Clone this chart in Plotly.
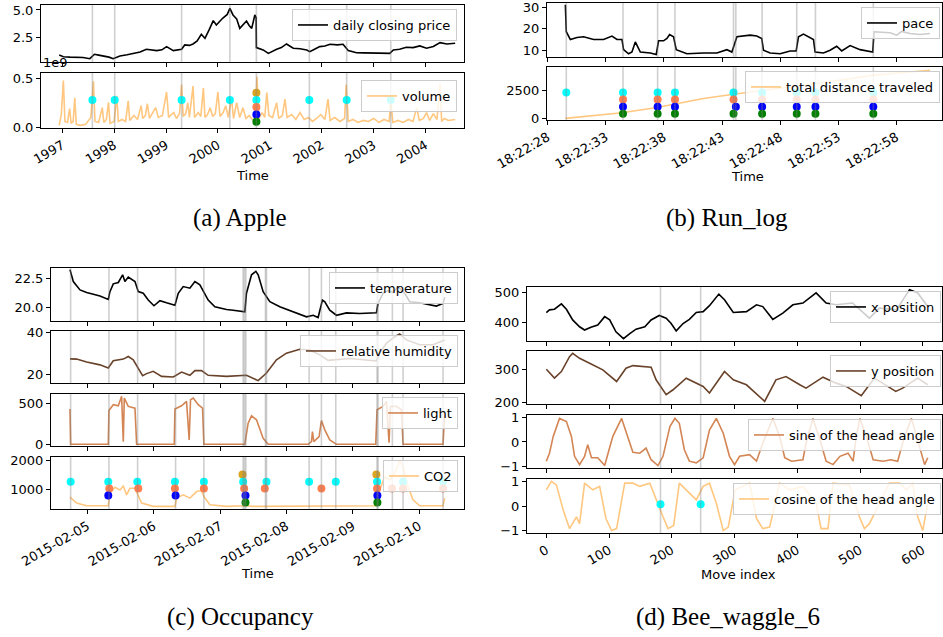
import pandas as pd
import plotly.graph_objects as go

W, H = 943, 637

# ---------------- (a) Apple ----------------
apple_year = [1996.94, 1997.02, 1997.15, 1997.28, 1997.40, 1997.53, 1997.62, 1997.70, 1997.79, 1997.90,
              1997.98, 1998.11, 1998.25, 1998.37, 1998.50, 1998.62, 1998.72, 1998.82, 1998.92, 1999.01,
              1999.14, 1999.30, 1999.36, 1999.45, 1999.52, 1999.60, 1999.68, 1999.75, 1999.83, 1999.91,
              1999.97, 2000.09, 2000.18, 2000.23, 2000.29, 2000.36, 2000.42, 2000.50, 2000.55, 2000.60,
              2000.65, 2000.71, 2000.735, 2000.74, 2000.80, 2000.87, 2000.97, 2001.05, 2001.13, 2001.22,
              2001.32, 2001.45, 2001.58, 2001.71, 2001.77, 2001.86, 2001.96, 2002.06, 2002.16, 2002.30,
              2002.41, 2002.51, 2002.58, 2002.67, 2002.80, 2002.93, 2003.10, 2003.31, 2003.38, 2003.50,
              2003.63, 2003.76, 2003.89, 2004.02, 2004.15, 2004.28, 2004.41, 2004.57]
apple_price = [0.93, 0.78, 0.74, 0.72, 0.70, 0.60, 1.00, 0.92, 0.84, 0.74,
               0.60, 0.84, 0.95, 1.08, 1.20, 1.45, 1.38, 1.33, 1.40, 1.69,
               1.33, 1.45, 1.84, 1.80, 1.93, 2.20, 2.80, 2.44, 3.20, 4.04,
               3.64, 4.25, 4.60, 5.15, 4.55, 4.20, 3.34, 3.80, 4.00, 3.60,
               3.34, 4.55, 4.30, 1.60, 1.50, 1.39, 1.08, 1.30, 1.45, 1.60,
               1.93, 1.54, 1.50, 1.39, 1.23, 1.45, 1.69, 1.75, 1.90, 1.85,
               1.90, 1.33, 1.25, 1.14, 1.12, 1.14, 1.10, 1.08, 1.39, 1.45,
               1.63, 1.60, 1.75, 1.54, 1.70, 2.05, 1.93, 2.00]

vol_year = [1996.94, 1996.98, 1997.02, 1997.05, 1997.10, 1997.14, 1997.17, 1997.21, 1997.24, 1997.27,
            1997.35, 1997.45, 1997.55, 1997.60, 1997.63, 1997.70, 1997.77, 1997.80, 1997.85, 1997.89,
            1997.92, 1998.00, 1998.05, 1998.08, 1998.15, 1998.22, 1998.27, 1998.30, 1998.38, 1998.45,
            1998.52, 1998.55, 1998.60, 1998.64, 1998.68, 1998.74, 1998.80, 1998.85, 1998.93, 1999.01,
            1999.05, 1999.10, 1999.15, 1999.20, 1999.26, 1999.30, 1999.33, 1999.38, 1999.42, 1999.45,
            1999.52, 1999.55, 1999.62, 1999.67, 1999.72, 1999.75, 1999.80, 1999.85, 1999.90, 1999.95,
            2000.00, 2000.04, 2000.10, 2000.15, 2000.20, 2000.26, 2000.30, 2000.36, 2000.42, 2000.48,
            2000.54, 2000.60, 2000.66, 2000.72, 2000.75, 2000.79, 2000.85, 2000.90, 2000.94, 2000.98,
            2001.05, 2001.13, 2001.17, 2001.24, 2001.29, 2001.33, 2001.42, 2001.50, 2001.58, 2001.66,
            2001.74, 2001.82, 2001.90, 2001.98, 2002.06, 2002.12, 2002.16, 2002.25, 2002.35, 2002.44,
            2002.47, 2002.51, 2002.60, 2002.70, 2002.80, 2002.90, 2003.00, 2003.10, 2003.20, 2003.30,
            2003.33, 2003.37, 2003.47, 2003.57, 2003.67, 2003.76, 2003.83, 2003.88, 2003.96, 2004.02,
            2004.08, 2004.15, 2004.22, 2004.28, 2004.31, 2004.36, 2004.44, 2004.57]
vol_value = [0.02, 0.13, 0.477, 0.06, 0.05, 0.19, 0.04, 0.06, 0.30, 0.03,
             0.02, 0.03, 0.10, 0.468, 0.06, 0.05, 0.20, 0.05, 0.08, 0.255,
             0.04, 0.06, 0.32, 0.06, 0.08, 0.06, 0.27, 0.07, 0.12, 0.08,
             0.22, 0.09, 0.12, 0.24, 0.09, 0.14, 0.20, 0.10, 0.12, 0.36,
             0.10, 0.13, 0.15, 0.09, 0.14, 0.435, 0.11, 0.14, 0.25, 0.10,
             0.42, 0.10, 0.15, 0.11, 0.40, 0.10, 0.13, 0.20, 0.11, 0.14,
             0.36, 0.11, 0.15, 0.22, 0.10, 0.30, 0.09, 0.25, 0.10, 0.20,
             0.09, 0.12, 0.08, 0.06, 0.517, 0.09, 0.15, 0.10, 0.353, 0.12,
             0.10, 0.25, 0.09, 0.12, 0.288, 0.10, 0.13, 0.08, 0.15, 0.08,
             0.10, 0.06, 0.09, 0.13, 0.08, 0.288, 0.07, 0.10, 0.06, 0.09,
             0.435, 0.06, 0.08, 0.05, 0.07, 0.06, 0.09, 0.05, 0.08, 0.06,
             0.288, 0.05, 0.07, 0.05, 0.08, 0.06, 0.20, 0.07, 0.09, 0.15,
             0.07, 0.14, 0.08, 0.435, 0.06, 0.09, 0.07, 0.08]

apple_events = [1997.58, 1998.01, 1999.30, 2000.23, 2000.74, 2001.76, 2002.48, 2003.33]
apple_dots = {
    "goldenrod": ([2000.74], 0.353),
    "cyan": ([1997.58, 1998.01, 1999.30, 2000.23, 2000.74, 2001.76, 2002.48, 2003.33], 0.278),
    "coral": ([2000.74], 0.206),
    "blue": ([2000.74], 0.131),
    "green": ([2000.74], 0.056),
}

# ---------------- (b) Run_log (seconds after 18:22:00) ----------------
pace_sec = [29.52, 29.60, 29.95, 30.52, 31.09, 31.95, 32.81, 33.53, 33.96, 34.39,
            34.53, 34.96, 35.25, 35.54, 35.97, 36.83, 37.34, 37.54, 37.97, 38.26,
            38.49, 38.83, 39.06, 39.40, 39.98, 41.41, 42.56, 43.42, 43.85, 44.28,
            44.85, 45.42, 45.99, 46.42, 46.57, 47.14, 48.00, 48.86, 49.38, 49.58,
            50.01, 50.58, 50.87, 51.01, 51.73, 52.30, 52.87, 53.30, 54.02, 54.88,
            55.74, 55.97, 56.08, 56.88, 57.46, 58.03, 58.46, 59.17, 60.03, 60.89]
pace_value = [31.1, 18.6, 15.0, 15.9, 16.25, 15.0, 15.0, 16.6, 15.0, 15.0,
              10.3, 8.4, 9.2, 13.9, 9.2, 8.75, 8.1, 14.4, 14.4, 15.5,
              17.3, 16.25, 10.3, 9.7, 8.4, 8.75, 8.75, 10.3, 9.2, 16.25,
              16.6, 17.0, 16.6, 15.5, 10.0, 8.75, 8.4, 9.7, 9.7, 16.25,
              17.5, 15.9, 15.0, 9.2, 8.75, 10.0, 11.9, 9.7, 12.2, 10.3,
              9.2, 9.2, 18.6, 18.4, 18.1, 17.0, 18.75, 17.8, 17.3, 17.8]
dist_sec = [29.52, 34.39, 37.40, 39.12, 41.41, 43.99, 46.28, 49.43, 51.15, 56.02, 60.89]
dist_value = [0, 512, 994, 1355, 1807, 2199, 2500, 2922, 3163, 3916, 4367]
run_events = [29.60, 34.48, 37.46, 38.95, 43.99, 44.19, 46.45, 49.43, 51.04, 56.02]
run_dots = {
    "cyan": ([29.60, 34.48, 37.46, 38.95, 43.99, 46.45, 49.43, 51.04, 56.02], 2349),
    "coral": ([34.48, 37.46, 38.95, 43.99, 46.45, 49.43, 51.04, 56.02], 1717),
    "blue": ([34.48, 37.46, 38.95, 44.19, 46.45, 49.43, 51.04, 56.02], 1054),
    "green": ([34.48, 37.46, 38.95, 43.99, 46.45, 49.43, 51.04, 56.02], 422),
}

# ---------------- (c) Occupancy (days after 2015-02-05) ----------------
temp_day = [-0.261, -0.211, -0.110, -0.010, 0.191, 0.316, 0.341, 0.391, 0.467, 0.532,
            0.567, 0.617, 0.718, 0.768, 0.843, 0.918, 1.004, 1.094, 1.194, 1.320,
            1.370, 1.445, 1.545, 1.621, 1.696, 1.756, 1.821, 1.922, 2.097, 2.198,
            2.373, 2.398, 2.474, 2.539, 2.574, 2.649, 2.750, 2.900, 3.101, 3.302,
            3.402, 3.477, 3.542, 3.578, 3.653, 3.753, 3.904, 4.104, 4.355, 4.380,
            4.456, 4.531, 4.606, 4.681, 4.782, 4.857, 5.008, 5.258, 5.359, 5.384]
temp_value = [23.3, 22.26, 21.53, 21.3, 21.0, 20.7, 21.38, 22.06, 22.18, 22.85,
              22.26, 22.65, 22.26, 21.38, 21.24, 20.65, 20.15, 20.59, 20.41, 20.2,
              21.24, 21.82, 21.68, 22.26, 21.97, 21.38, 20.65, 20.06, 19.82, 19.76,
              19.62, 21.24, 22.85, 23.15, 22.85, 21.38, 20.5, 20.06, 19.62, 19.18,
              19.32, 19.12, 20.65, 20.5, 19.76, 19.32, 19.53, 19.47, 19.53, 20.35,
              21.24, 21.47, 21.3, 21.82, 21.24, 20.5, 20.41, 20.12, 20.35, 20.88]

hum_day = [-0.261, -0.161, -0.010, 0.191, 0.316, 0.391, 0.542, 0.617, 0.692, 0.768,
           0.833, 0.893, 0.993, 1.119, 1.295, 1.420, 1.545, 1.621, 1.721, 1.821,
           2.097, 2.398, 2.499, 2.574, 2.699, 2.850, 3.000, 3.201, 3.352, 3.502,
           3.628, 3.753, 3.954, 4.155, 4.355, 4.405, 4.506, 4.631, 4.706, 4.807,
           5.008, 5.208, 5.384]
hum_value = [27.4, 27.3, 25.9, 24.6, 23.1, 26.5, 27.3, 28.5, 27.0, 23.1,
             19.5, 20.5, 21.6, 19.2, 18.9, 21.2, 19.7, 21.9, 21.9, 19.7,
             19.2, 19.7, 18.1, 17.2, 20.8, 27.0, 30.1, 31.9, 31.6, 29.3,
             26.7, 27.0, 27.6, 27.0, 26.4, 30.1, 34.7, 37.8, 39.1, 36.3,
             34.0, 34.0, 36.3]

light_day = [-0.261, -0.251, 0.316, 0.326, 0.391, 0.467, 0.517, 0.542, 0.557, 0.617,
             0.718, 0.743, 1.310, 1.320, 1.420, 1.495, 1.535, 1.555, 1.596, 1.671,
             1.736, 1.756, 2.373, 2.423, 2.474, 2.549, 2.649, 2.725, 3.327, 3.377,
             3.392, 3.412, 3.492, 3.527, 3.578, 3.653, 3.753, 4.345, 4.365, 4.456,
             4.506, 4.546, 4.566, 4.656, 4.732, 4.757, 5.359, 5.384]
light_value = [434, 0, 0, 417, 488, 475, 591, 33, 570, 467,
               446, 0, 0, 434, 475, 529, 54, 550, 570, 488,
               446, 0, 0, 260, 351, 302, 74, 0, 0, 33,
               157, 33, 95, 293, 178, 54, 0, 0, 426, 467,
               529, 21, 467, 467, 426, 0, 0, 384]

co2_day = [-0.261, -0.161, -0.010, 0.316, 0.341, 0.416, 0.492, 0.542, 0.592, 0.642,
           0.718, 0.753, 0.818, 0.993, 1.320, 1.345, 1.445, 1.545, 1.646, 1.721,
           1.756, 1.846, 2.097, 2.373, 2.499, 4.355, 4.405, 4.481, 4.556, 4.631,
           4.706, 4.757, 4.832, 4.907, 5.008, 5.359, 5.384]
co2_value = [739, 534, 443, 443, 875, 1080, 989, 1125, 818, 1045,
             1045, 875, 534, 420, 420, 705, 818, 705, 932, 966,
             761, 477, 420, 443, 420, 443, 989, 1443, 1330, 1557,
             2011, 1784, 1102, 648, 443, 443, 705]

occ_events = [-0.251, 0.326, 0.758, 1.330, 1.756, 2.348, 2.368, 2.388, 2.684, 2.699,
              3.342, 3.527, 3.743, 4.365, 4.380, 4.596, 4.757, 5.359]
occ_dots = {
    "goldenrod": ([2.338, 4.355], 1523),
    "cyan": ([-0.251, 0.316, 0.753, 1.320, 1.756, 2.348, 2.699, 3.342, 3.743, 4.365, 4.757, 5.359], 1273),
    "coral": ([0.331, 0.768, 1.320, 1.756, 2.363, 2.674, 3.527, 4.365, 4.591, 4.757, 5.359], 1034),
    "blue": ([0.316, 1.330, 2.383, 4.370], 795),
    "green": ([2.383, 4.370], 557),
}

# ---------------- (d) Bee_waggle_6 ----------------
xpos_idx = [0, 5, 13, 24, 32, 42, 53, 61, 71, 82, 93, 101, 111, 123, 133, 143, 157, 167, 180,
            191, 199, 207, 218, 228, 239, 250, 260, 275, 284, 298, 319, 335, 345, 361, 377,
            393, 409, 430, 446, 462, 488, 515, 531, 558, 579, 592, 608]
xpos_value = [432, 441, 443, 461, 443, 407, 384, 373, 382, 390, 418, 407, 367, 344, 361, 376,
              384, 407, 422, 413, 395, 370, 395, 409, 432, 435, 455, 494, 475, 432, 435, 458,
              452, 409, 430, 458, 464, 498, 464, 458, 464, 413, 447, 441, 509, 498, 452]
ypos_idx = [0, 13, 24, 37, 42, 53, 69, 90, 112, 127, 138, 167, 175, 191, 202, 223, 250, 260,
            284, 298, 319, 348, 366, 382, 404, 414, 441, 462, 478, 502, 515, 523, 536, 557,
            568, 579, 592, 608]
ypos_value = [300, 273, 293, 338, 348, 333, 318, 298, 263, 303, 311, 306, 268, 223, 238, 273,
              248, 228, 293, 268, 253, 203, 268, 278, 253, 243, 276, 258, 248, 220, 253, 273,
              258, 233, 243, 258, 273, 253]
sine_idx = [0, 5, 11, 21, 32, 40, 45, 53, 61, 66, 72, 82, 93, 106, 120, 130, 138, 149, 159,
            167, 178, 186, 197, 205, 212, 220, 228, 239, 250, 260, 271, 282, 292, 300, 308,
            324, 335, 345, 361, 372, 380, 391, 409, 414, 425, 436, 446, 457, 468, 481, 489,
            494, 500, 510, 521, 537, 549, 560, 571, 582, 592, 603, 608]
sine_value = [-0.79, -0.46, 0.23, 0.97, 0.84, 0.23, -0.59, -0.93, -0.59, -0.11, -0.65, -0.65,
              -0.97, 0.23, 0.97, 0.23, -0.42, -0.46, -0.25, -0.73, -0.97, -0.59, 0.63, 0.97,
              0.77, -0.32, -0.79, -0.86, -0.65, 0.49, 0.97, 0.36, -0.59, -0.93, -0.59, -0.52,
              -0.79, -0.05, 0.97, 0.23, -0.65, -0.79, -0.73, -0.05, 0.97, 0.10, -0.79, -0.93,
              -0.59, -0.46, -0.79, 0.23, 0.97, 0.23, -0.73, -0.79, -0.73, -0.79, 0.23, 0.97,
              0.10, -0.93, -0.65]
cos_idx = [0, 8, 16, 27, 37, 48, 53, 61, 74, 85, 95, 104, 112, 125, 138, 149, 165, 175, 186,
           194, 203, 212, 223, 239, 250, 260, 271, 282, 290, 301, 313, 324, 335, 345, 356,
           372, 388, 409, 430, 438, 449, 457, 483, 499, 507, 515, 547, 563, 574, 584, 592,
           600, 608]
cos_value = [0.66, 1.0, 0.86, -0.17, -0.92, -0.44, -0.72, 0.93, 0.66, 0.80, -0.51, -1.0,
             -0.92, 0.93, 0.93, 0.80, 0.93, 0.25, -0.44, -0.92, -0.79, 0.93, 0.66, 0.25,
             0.80, 0.93, 0.11, -1.0, -0.86, 0.66, 0.80, 0.93, -0.51, -0.92, -0.86, 0.93,
             0.66, 0.80, 0.11, -0.92, -0.92, 0.93, 0.86, -0.44, -0.92, -0.72, 0.93, 0.93,
             0.66, 0.93, -0.44, -1.0, 0.11]
bee_events = [182, 246]
bee_dots = {"cyan": ([182, 246], 0.07)}

# ---------------- helpers ----------------
def dyear(v):
    y = int(v)
    a = pd.Timestamp(y, 1, 1)
    b = pd.Timestamp(y + 1, 1, 1)
    return a + (b - a) * (v - y)

run_base = pd.Timestamp("2017-05-10 18:22:00")
def rsec(s):
    return run_base + pd.to_timedelta(s, unit="s")

occ_base = pd.Timestamp("2015-02-05")
def oday(d):
    return occ_base + pd.to_timedelta(d, unit="D")

def cvt(f, seq):
    return [f(v) for v in seq]

COPPER = ["rgb(0,0,0)", "rgb(105,66,42)", "rgb(211,133,84)", "rgb(255,199,127)"]
DOTC = {"goldenrod": "#DAA520", "cyan": "#00FFFF", "coral": "#FF7F50", "blue": "#0000FF", "green": "#008000"}
FONT = "DejaVu Sans"

def X(p): return p / W
def Y(p): return 1 - p / H

fig = go.Figure()
layout = {}
shapes = []
annotations = []

axis_common = dict(showline=True, linecolor="black", linewidth=1, mirror=True, ticks="outside",
                   ticklen=4, tickcolor="black", tickwidth=1, showgrid=False, zeroline=False,
                   automargin=False, ticklabeloverflow="allow",
                   tickfont=dict(family=FONT, size=13, color="black"))

def add_axes(i, xdom, ydom, xopts, yopts, match=None, labels=True):
    xa = dict(axis_common, domain=[X(xdom[0]), X(xdom[1])], anchor=f"y{i}" if i > 1 else "y", **xopts)
    if match:
        xa["matches"] = match
    if not labels:
        xa["showticklabels"] = False
    ya = dict(axis_common, domain=[Y(ydom[1]), Y(ydom[0])], anchor=f"x{i}" if i > 1 else "x", **yopts)
    layout["xaxis" if i == 1 else f"xaxis{i}"] = xa
    layout["yaxis" if i == 1 else f"yaxis{i}"] = ya

def refs(i):
    return ("x" if i == 1 else f"x{i}"), ("y" if i == 1 else f"y{i}")

def add_line(i, xs, ys, color, name, leg, width=1.6):
    xr, yr = refs(i)
    fig.add_trace(go.Scatter(x=xs, y=ys, mode="lines", line=dict(color=color, width=width),
                             name=name, xaxis=xr, yaxis=yr, legend=leg, showlegend=True))

def add_dots(i, dots, f):
    xr, yr = refs(i)
    for cname in ["goldenrod", "cyan", "coral", "blue", "green"]:
        if cname in dots:
            xs, lvl = dots[cname]
            fig.add_trace(go.Scatter(x=cvt(f, xs), y=[lvl] * len(xs), mode="markers",
                                     marker=dict(color=DOTC[cname], size=8), showlegend=False,
                                     xaxis=xr, yaxis=yr, hoverinfo="skip"))

def add_vlines(i, events, f):
    xr, yr = refs(i)
    for e in events:
        xv = f(e)
        shapes.append(dict(type="line", xref=xr, yref=f"{yr} domain", x0=xv, x1=xv, y0=0, y1=1,
                           line=dict(color="rgba(128,128,128,0.38)", width=1.6), layer="above"))

def add_legend(key, right, top):
    layout[key] = dict(x=X(right), y=Y(top - 3), xanchor="right", yanchor="top",
                       bgcolor="rgba(255,255,255,0.8)", bordercolor="rgba(204,204,204,1)",
                       borderwidth=1, font=dict(family=FONT, size=13, color="black"),
                       itemwidth=30, tracegroupgap=0)

ident = lambda v: v

# ---- panel (a)
a_range = [dyear(1996.59), dyear(2004.74)]
ax_date_a = dict(type="date", range=a_range, tick0="1997-01-01", dtick="M12", tickformat="%Y", tickangle=-30)
add_axes(1, (41, 464), (5, 62), dict(ax_date_a), dict(range=[0.3, 5.45], tickvals=[2.5, 5.0], tickformat=".1f"),
         match="x2", labels=False)
add_axes(2, (41, 464), (73, 128), dict(ax_date_a), dict(range=[-0.007, 0.553], tickvals=[0.0, 0.5], tickformat=".1f"))
add_line(1, cvt(dyear, apple_year), apple_price, COPPER[0], "daily closing price", "legend")
add_line(2, cvt(dyear, vol_year), vol_value, COPPER[3], "volume", "legend2")
add_dots(2, apple_dots, dyear)
add_vlines(1, apple_events, dyear)
add_vlines(2, apple_events, dyear)
add_legend("legend", 457, 12)
add_legend("legend2", 457, 83)
annotations.append(dict(text="1e9", x=X(41), y=Y(72), xref="paper", yref="paper", xanchor="left",
                        yanchor="bottom", showarrow=False, font=dict(family=FONT, size=13, color="black")))

# ---- panel (b)
b_range = [rsec(27.94), rsec(61.93)]
ax_date_b = dict(type="date", range=b_range, tick0=rsec(28), dtick=5000, tickformat="%H:%M:%S", tickangle=-30)
add_axes(3, (547, 942), (3, 57), dict(ax_date_b), dict(range=[6.9, 31.9], tickvals=[10, 20, 30]),
         match="x4", labels=False)
add_axes(4, (547, 942), (67, 120), dict(ax_date_b), dict(range=[-150, 4669], tickvals=[0, 2500]))
add_line(3, cvt(rsec, pace_sec), pace_value, COPPER[0], "pace", "legend3")
add_line(4, cvt(rsec, dist_sec), dist_value, COPPER[3], "total distance traveled", "legend4")
add_dots(4, run_dots, rsec)
add_vlines(3, run_events, rsec)
add_vlines(4, run_events, rsec)
add_legend("legend3", 940, 10)
add_legend("legend4", 940, 74)

# ---- panel (c)
c_range = [oday(-0.547), oday(5.675)]
ax_date_c = dict(type="date", range=c_range, tick0="2015-02-05", dtick=86400000, tickformat="%Y-%m-%d", tickangle=-30)
c_rows = [(268, 321), (331, 383), (394, 446), (457, 509)]
c_y = [dict(range=[18.82, 23.44], tickvals=[20.0, 22.5], tickformat=".1f"),
       dict(range=[16.1, 40.47], tickvals=[20, 40]),
       dict(range=[-20.7, 620], tickvals=[0, 500]),
       dict(range=[330, 2125], tickvals=[1000, 2000])]
for k in range(4):
    add_axes(5 + k, (51, 464), c_rows[k], dict(ax_date_c), c_y[k],
             match=None if k == 3 else "x8", labels=(k == 3))
    add_vlines(5 + k, occ_events, oday)
add_line(5, cvt(oday, temp_day), temp_value, COPPER[0], "temperature", "legend5")
add_line(6, cvt(oday, hum_day), hum_value, COPPER[1], "relative humidity", "legend6")
add_line(7, cvt(oday, light_day), light_value, COPPER[2], "light", "legend7")
add_line(8, cvt(oday, co2_day), co2_value, COPPER[3], "CO2", "legend8")
add_dots(8, occ_dots, oday)
add_legend("legend5", 458, 275)
add_legend("legend6", 458, 338)
add_legend("legend7", 458, 400)
add_legend("legend8", 458, 463)

# ---- panel (d)
d_rows = [(287, 341), (351, 404), (415, 468), (479, 533)]
d_y = [dict(range=[336, 518], tickvals=[400, 500]),
       dict(range=[195, 355], tickvals=[200, 300]),
       dict(range=[-1.07, 1.11], tickvals=[-1, 0, 1]),
       dict(range=[-1.1, 1.1], tickvals=[-1, 0, 1])]
ax_d = dict(range=[-30.8, 630.7], tickvals=[0, 100, 200, 300, 400, 500, 600], tickangle=-30)
for k in range(4):
    add_axes(9 + k, (527, 942), d_rows[k], dict(ax_d), d_y[k],
             match=None if k == 3 else "x12", labels=(k == 3))
    add_vlines(9 + k, bee_events, ident)
add_line(9, xpos_idx, xpos_value, COPPER[0], "x position", "legend9")
add_line(10, ypos_idx, ypos_value, COPPER[1], "y position", "legend10")
add_line(11, sine_idx, sine_value, COPPER[2], "sine of the head angle", "legend11")
add_line(12, cos_idx, cos_value, COPPER[3], "cosine of the head angle", "legend12")
add_dots(12, bee_dots, ident)
add_legend("legend9", 941, 294)
add_legend("legend10", 941, 358)
add_legend("legend11", 941, 422)
add_legend("legend12", 941, 486)

# ---- axis titles & captions
def label(text, x, y, size=13, family=FONT):
    annotations.append(dict(text=text, x=X(x), y=Y(y), xref="paper", yref="paper", xanchor="center",
                            yanchor="middle", showarrow=False, font=dict(family=family, size=size, color="black")))

label("Time", 252, 175)
label("Time", 747, 176)
label("Time", 257, 573)
label("Move index", 738, 574)
CAP = "Liberation Serif"
label("(a) Apple", 240, 218, 25, CAP)
label("(b) Run_log", 727, 218, 25, CAP)
label("(c) Occupancy", 241, 617, 25, CAP)
label("(d) Bee_waggle_6", 728, 617, 25, CAP)

fig.update_layout(**layout)
fig.update_layout(template="none", width=W, height=H,
                  margin=dict(l=0, r=0, t=0, b=0, pad=0, autoexpand=False),
                  paper_bgcolor="white", plot_bgcolor="white", shapes=shapes,
                  annotations=annotations, hovermode=False)
fig.write_html("out.html")
